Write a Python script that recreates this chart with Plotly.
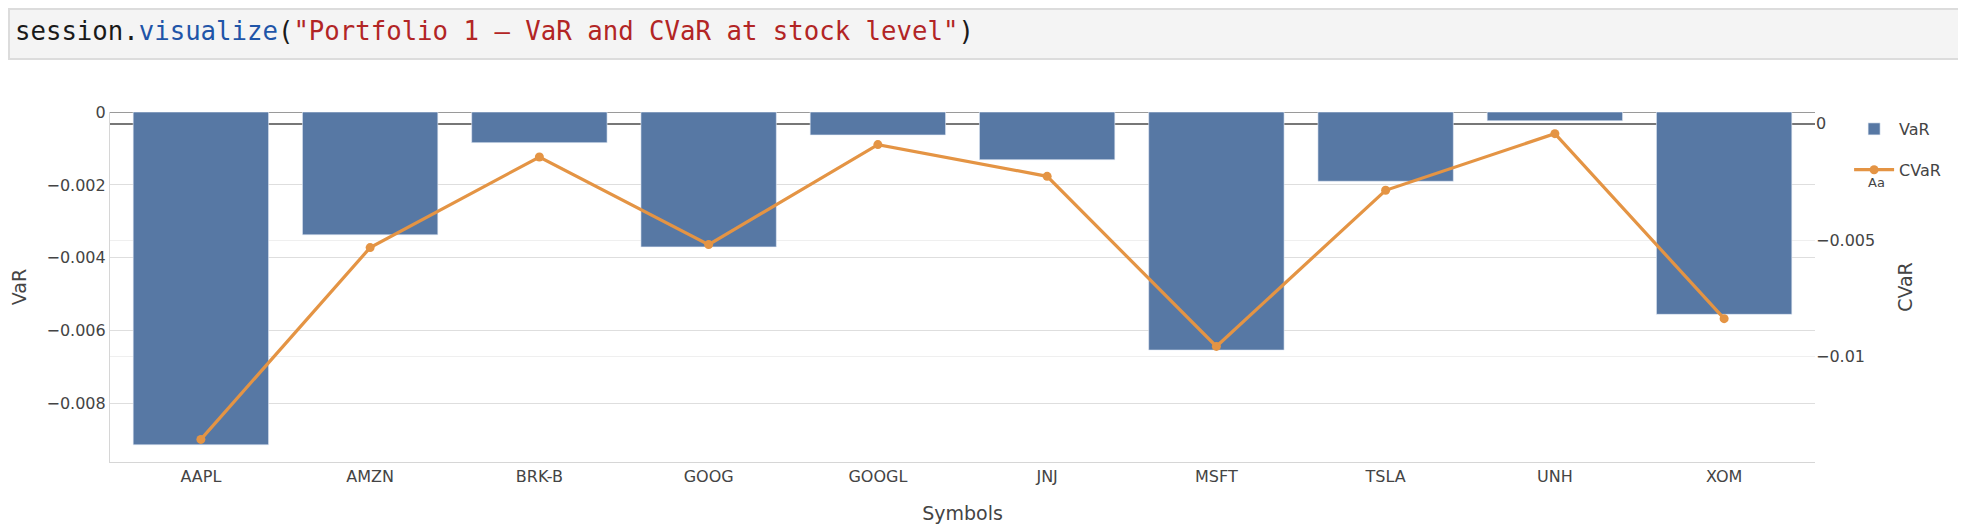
import plotly.graph_objects as go

# values
symbols = ["AAPL", "AMZN", "BRK-B", "GOOG", "GOOGL", "JNJ", "MSFT", "TSLA", "UNH", "XOM"]
var_values = [-0.00913, -0.00337, -0.00084, -0.0037, -0.00063,
              -0.00131, -0.00653, -0.0019, -0.00024, -0.00555]
cvar_values = [-0.01355, -0.00532, -0.00143, -0.00519, -0.0009,
               -0.00226, -0.00956, -0.00286, -0.00043, -0.00837]

# the page body has an 8px margin, so the figure is a bit smaller than the window
OFF = 8
W, H = 1966 - 2 * OFF, 532 - 2 * OFF
L, T = 110 - OFF, 112 - OFF
R = W + OFF - 1815
B = H + OFF - 462
PW, PH = W - L - R, H - T - B


def px_x(x):
    # page pixel -> paper coordinate
    return (x - OFF - L) / PW


def px_y(y):
    return (H + OFF - B - y) / PH


FONT = "DejaVu Sans, Verdana, sans-serif"

fig = go.Figure()
fig.add_trace(go.Bar(
    x=symbols, y=var_values, name="VaR", legendgroup="var",
    marker=dict(color="#5778a4", line=dict(color="#E5ECF6", width=0.6)),
))
fig.add_trace(go.Scatter(
    x=symbols, y=cvar_values, name="CVaR", yaxis="y2", legendgroup="cvar",
    mode="lines+markers",
    line=dict(color="#e49444", width=3.2),
    marker=dict(color="#e49444", size=9),
))

# notebook code cell shown above the chart
fig.add_shape(
    type="rect", xref="paper", yref="paper",
    x0=px_x(OFF + 1), x1=px_x(1975), y0=px_y(59), y1=px_y(OFF + 1),
    fillcolor="#f4f4f4", line=dict(color="#dcdcdc", width=2), layer="above",
)
code = ('<span style="color:#1a1a1a">session.</span>'
        '<span style="color:#1f55a8">visualize</span>'
        '<span style="color:#1a1a1a">(</span>'
        '<span style="color:#b22525">"Portfolio 1 – VaR and CVaR at stock level"</span>'
        '<span style="color:#1a1a1a">)</span>')
fig.add_annotation(
    text=code, xref="paper", yref="paper", x=px_x(13), y=px_y(31),
    xanchor="left", yanchor="middle", showarrow=False,
    font=dict(family="DejaVu Sans Mono, monospace", size=25.7),
)
# "Aa" text-mode marker under the CVaR legend symbol
fig.add_annotation(
    text="Aa", xref="paper", yref="paper", x=px_x(1876), y=px_y(182),
    xanchor="center", yanchor="middle", showarrow=False,
    font=dict(family=FONT, size=13, color="#444"),
)

fig.update_layout(
    template="none",
    width=W, height=H,
    margin=dict(l=L, r=R, t=T, b=B, autoexpand=False),
    paper_bgcolor="white", plot_bgcolor="white",
    font=dict(family=FONT, size=16, color="#444"),
    bargap=0.2,
    showlegend=True,
    legend=dict(x=1.02, y=1, xanchor="left", yanchor="top", font=dict(size=16),
                traceorder="grouped", tracegroupgap=17, itemwidth=40),
    xaxis=dict(
        title=dict(text="Symbols", font=dict(size=19), standoff=22),
        showline=True, linecolor="#d6d6d6", linewidth=1.2,
        showgrid=False, ticks="", tickfont=dict(size=16),
    ),
    yaxis=dict(
        title=dict(text="VaR", font=dict(size=19), standoff=20),
        range=[-0.0096, 0], dtick=0.002,
        showline=True, linecolor="#d6d6d6", linewidth=1.2,
        showgrid=True, gridcolor="#dedede", gridwidth=1.2,
        zeroline=True, zerolinecolor="#9a9a9a", zerolinewidth=1.2,
        ticks="", tickfont=dict(size=16),
    ),
    yaxis2=dict(
        title=dict(text="CVaR", font=dict(size=19), standoff=24),
        overlaying="y", side="right",
        range=[-0.01452, 0.0005], dtick=0.005,
        showline=False,
        showgrid=True, gridcolor="#efefef", gridwidth=1.2,
        zeroline=True, zerolinecolor="#777777", zerolinewidth=1.5,
        ticks="", tickfont=dict(size=16),
    ),
)

fig.write_html("out.html")
